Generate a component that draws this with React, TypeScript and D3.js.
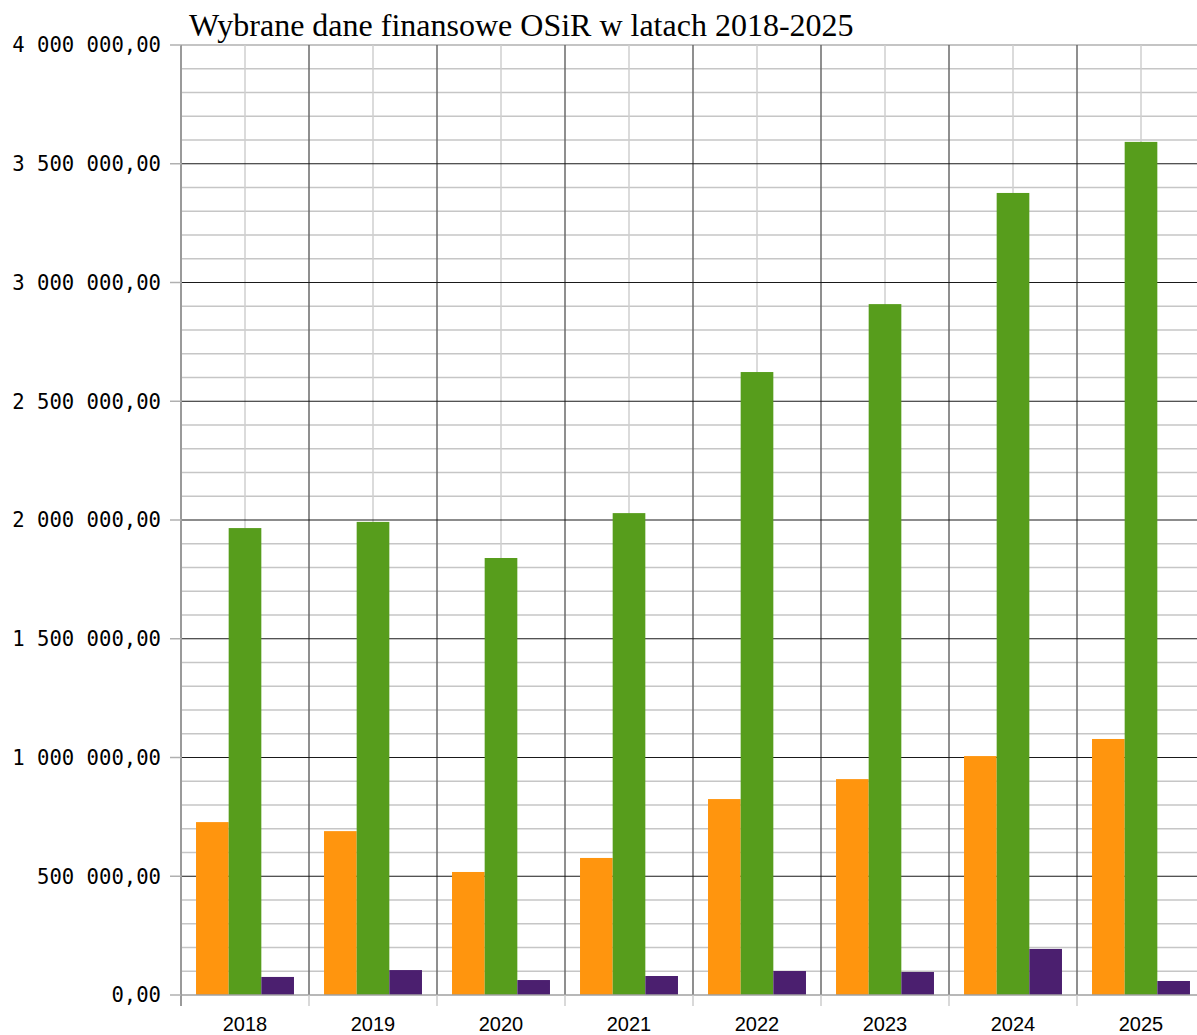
import React from 'react'
import * as d3 from 'd3'

const years = ['2018', '2019', '2020', '2021', '2022', '2023', '2024', '2025']
const seriesKeys = ['orange', 'green', 'purple']
const orangeValues = [728000, 690000, 518000, 577000, 825000, 909000, 1006000, 1078000]
const greenValues = [1966000, 1992000, 1840000, 2029000, 2623000, 2909000, 3377000, 3592000]
const purpleValues = [76000, 105000, 63000, 80000, 101000, 97000, 194000, 59000]
const yMajorTicks = [0, 500000, 1000000, 1500000, 2000000, 2500000, 3000000, 3500000, 4000000]

const colors = { orange: '#ff950e', green: '#579d1c', purple: '#4b1f6f' }

const width = 1197
const height = 1035
const margin = { top: 45, left: 181, bottom: 40 }
const step = 128

const plLocale = d3.formatLocale({ decimal: ',', thousands: ' ', grouping: [3], currency: ['', ''] })
const fmt = plLocale.format(',.2f')

export default function App() {
  const plotRight = margin.left + step * years.length
  const plotBottom = height - margin.bottom

  const x0 = d3.scaleBand().domain(years).range([margin.left, plotRight]).padding(0)
  const x1 = d3.scaleBand().domain(seriesKeys).range([0, x0.bandwidth()]).paddingInner(0).paddingOuter(0.46)
  const y = d3.scaleLinear().domain([0, 4000000]).range([plotBottom, margin.top])

  const minorTicks = y.ticks(40).filter(t => !yMajorTicks.includes(t))
  const values = { orange: orangeValues, green: greenValues, purple: purpleValues }

  return (
    <svg width={width} height={height} style={{ position: 'absolute', left: 0, top: 0, background: '#fff' }}>
      {/* minor horizontal grid */}
      {minorTicks.map(t => (
        <line key={'mh' + t} x1={margin.left} x2={plotRight} y1={y(t)} y2={y(t)} stroke="#c6c6c6" strokeWidth={1.5} />
      ))}
      {/* top line */}
      <line x1={margin.left} x2={plotRight} y1={y(4000000)} y2={y(4000000)} stroke="#b0b0b0" strokeWidth={1.5} />
      {/* minor vertical grid in band middle */}
      {years.map(yr => (
        <line key={'mv' + yr} x1={x0(yr) + x0.bandwidth() / 2} x2={x0(yr) + x0.bandwidth() / 2}
          y1={margin.top} y2={plotBottom} stroke="#cfcfcf" strokeWidth={1.5} />
      ))}
      {/* major vertical grid at band edges */}
      {years.slice(1).map(yr => (
        <line key={'Mv' + yr} x1={x0(yr)} x2={x0(yr)} y1={margin.top} y2={plotBottom} stroke="#6a6a6a" strokeWidth={1.5} />
      ))}
      {/* major horizontal grid */}
      {yMajorTicks.filter(t => t > 0 && t < 4000000).map(t => (
        <line key={'Mh' + t} x1={margin.left} x2={plotRight} y1={y(t)} y2={y(t)} stroke="#1a1a1a" strokeWidth={1.2} />
      ))}

      {/* bars */}
      {years.map((yr, i) => (
        <g key={'g' + yr} transform={`translate(${x0(yr)},0)`}>
          {seriesKeys.map(k => (
            <rect key={k} x={x1(k)} width={x1.bandwidth()} y={y(values[k][i])}
              height={y(0) - y(values[k][i])} fill={colors[k]} />
          ))}
        </g>
      ))}

      {/* axes */}
      <line x1={margin.left} x2={plotRight} y1={y(0)} y2={y(0)} stroke="#a0a0a0" strokeWidth={1.5} />
      <line x1={margin.left} x2={margin.left} y1={margin.top} y2={plotBottom + 11} stroke="#9a9a9a" strokeWidth={2} />
      {yMajorTicks.map(t => (
        <g key={'yt' + t}>
          <line x1={margin.left - 11} x2={margin.left} y1={y(t)} y2={y(t)} stroke="#b0b0b0" strokeWidth={1.5} />
          <text x={161} y={y(t)} dy="0.36em" textAnchor="end" fontFamily="DejaVu Sans Mono" fontSize={20.6} fill="#000">
            {fmt(t)}
          </text>
        </g>
      ))}
      {years.slice(1).map(yr => (
        <line key={'xt' + yr} x1={x0(yr)} x2={x0(yr)} y1={plotBottom} y2={plotBottom + 11} stroke="#cccccc" strokeWidth={1.5} />
      ))}
      {years.map(yr => (
        <text key={'xl' + yr} x={x0(yr) + x0.bandwidth() / 2} y={1031} textAnchor="middle"
          fontFamily="Liberation Sans, Arial, sans-serif" fontSize={20} fill="#000">
          {yr}
        </text>
      ))}

      <text x={189} y={36} fontFamily="Liberation Serif, Times New Roman, serif" fontSize={32} fill="#000">
        Wybrane dane finansowe OSiR w latach 2018-2025
      </text>
    </svg>
  )
}
